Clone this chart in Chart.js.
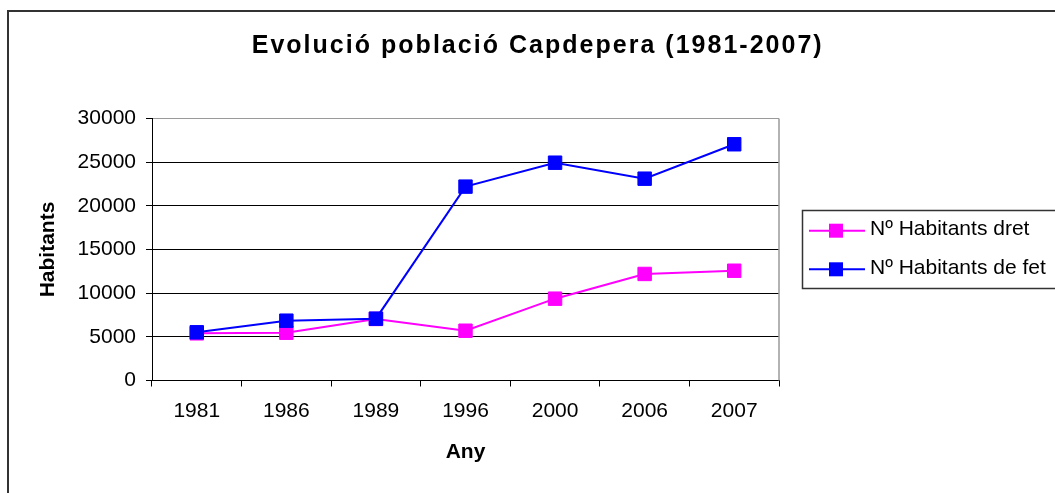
<!DOCTYPE html>
<html>
<head>
<meta charset="utf-8">
<script src="https://cdn.jsdelivr.net/npm/chart.js@4/dist/chart.umd.min.js"></script>
<style>
  html, body { margin: 0; padding: 0; background: #fff; }
  #wrap { width: 1055px; height: 493px; }
</style>
</head>
<body>
<div id="wrap"><canvas id="c" width="1055" height="493"></canvas></div>
<script>
const titleText = 'Evolució població Capdepera (1981-2007)';
const xAxisTitle = 'Any';
const yAxisTitle = 'Habitants';
const years = ['1981', '1986', '1989', '1996', '2000', '2006', '2007'];
const seriesDretLabel = 'Nº Habitants dret';
const seriesFetLabel = 'Nº Habitants de fet';
const habitantsDret = [5400, 5470, 7050, 5700, 9370, 12200, 12570];
const habitantsFet = [5520, 6850, 7080, 22200, 24940, 23110, 27050];
const yMin = 0, yMax = 30000, yStep = 5000;

const FONT = "'Liberation Sans', Arial, sans-serif";

const framePlugin = {
  id: 'frame',
  beforeDraw(chart) {
    const ctx = chart.ctx;
    ctx.save();
    ctx.fillStyle = '#fff';
    ctx.fillRect(0, 0, chart.width, chart.height);
    ctx.strokeStyle = '#333';
    ctx.lineWidth = 2;
    ctx.strokeRect(8, 11, 1200, 700);
    ctx.restore();
  },
  beforeDatasetsDraw(chart) {
    const {ctx, chartArea: a} = chart;
    ctx.save();
    ctx.strokeStyle = '#9a9a9a';
    ctx.lineWidth = 1.5;
    ctx.beginPath();
    ctx.moveTo(a.right, a.top);
    ctx.lineTo(a.right, a.bottom);
    ctx.stroke();
    ctx.restore();
  },
  afterDraw(chart) {
    const ctx = chart.ctx;
    ctx.save();
    // title
    ctx.font = "bold 25px " + FONT;
    ctx.fillStyle = '#000';
    ctx.textBaseline = 'middle';
    ctx.textAlign = 'left';
    const w0 = ctx.measureText(titleText).width;
    const n = [...titleText].length;
    const ls = Math.max(0, (570 - w0) / (n - 1));
    ctx.letterSpacing = ls + 'px';
    ctx.fillText(titleText, 536.7 - 285, 46);
    ctx.letterSpacing = '0px';
    // legend
    ctx.strokeStyle = '#333';
    ctx.lineWidth = 1.5;
    ctx.strokeRect(802.5, 210.5, 400, 78);
    const order = [0, 1];
    const rows = [230.7, 269.3];
    ctx.font = "21px " + FONT;
    order.forEach((di, i) => {
      const ds = chart.data.datasets[di];
      const y = rows[i];
      ctx.strokeStyle = ds.borderColor;
      ctx.lineWidth = 2;
      ctx.beginPath();
      ctx.moveTo(809, y);
      ctx.lineTo(865, y);
      ctx.stroke();
      ctx.fillStyle = ds.backgroundColor;
      ctx.fillRect(836 - 7, y - 7, 14, 14);
      ctx.fillStyle = '#000';
      ctx.textBaseline = 'middle';
      ctx.fillText(ds.label, 870, y - 1.5);
    });
    ctx.restore();
  }
};

new Chart(document.getElementById('c'), {
  type: 'line',
  data: {
    labels: years,
    datasets: [
      {
        label: seriesDretLabel,
        data: habitantsDret,
        borderColor: '#FF00FF',
        backgroundColor: '#FF00FF',
        pointBackgroundColor: '#FF00FF',
        pointBorderColor: '#FF00FF',
        order: 1
      },
      {
        label: seriesFetLabel,
        data: habitantsFet,
        borderColor: '#0000FF',
        backgroundColor: '#0000FF',
        pointBackgroundColor: '#0000FF',
        pointBorderColor: '#0000FF',
        order: 0
      }
    ]
  },
  options: {
    responsive: false,
    animation: false,
    devicePixelRatio: 1,
    elements: {
      line: { borderWidth: 2, tension: 0, fill: false },
      point: { pointStyle: 'rect', radius: 9.5, hoverRadius: 9.5, borderWidth: 1 }
    },
    layout: { padding: { left: 0, right: 276, top: 118.5, bottom: 0 } },
    plugins: {
      legend: { display: false },
      title: { display: false },
      tooltip: { enabled: false }
    },
    scales: {
      x: {
        type: 'category',
        offset: true,
        afterFit(s) { s.height = 112.5; },
        grid: {
          offset: true,
          drawOnChartArea: false,
          drawTicks: true,
          tickLength: 6,
          color: '#000',
          lineWidth: 1
        },
        border: { display: true, color: '#000', width: 1 },
        ticks: {
          font: { family: FONT, size: 21 },
          color: '#000',
          padding: 12,
          maxRotation: 0,
          autoSkip: false
        },
        title: {
          display: true,
          text: xAxisTitle,
          color: '#000',
          font: { family: FONT, size: 21, weight: 'bold' },
          padding: { top: 0, bottom: 28 }
        }
      },
      y: {
        min: yMin,
        max: yMax,
        afterFit(s) { s.width = 152; },
        grid: {
          drawTicks: true,
          tickLength: 6,
          color: (c) => (c.tick && c.tick.value === yMax ? '#9a9a9a' : '#000'),
          tickColor: '#000',
          lineWidth: 1
        },
        border: { display: true, color: '#000', width: 1 },
        ticks: {
          stepSize: yStep,
          font: { family: FONT, size: 21 },
          color: '#000',
          padding: 10,
          callback: (v) => String(v)
        },
        title: {
          display: true,
          text: yAxisTitle,
          color: '#000',
          font: { family: FONT, size: 21, weight: 'bold' },
          padding: { top: 36, bottom: 0 }
        }
      }
    }
  },
  plugins: [framePlugin]
});
</script>
</body>
</html>
